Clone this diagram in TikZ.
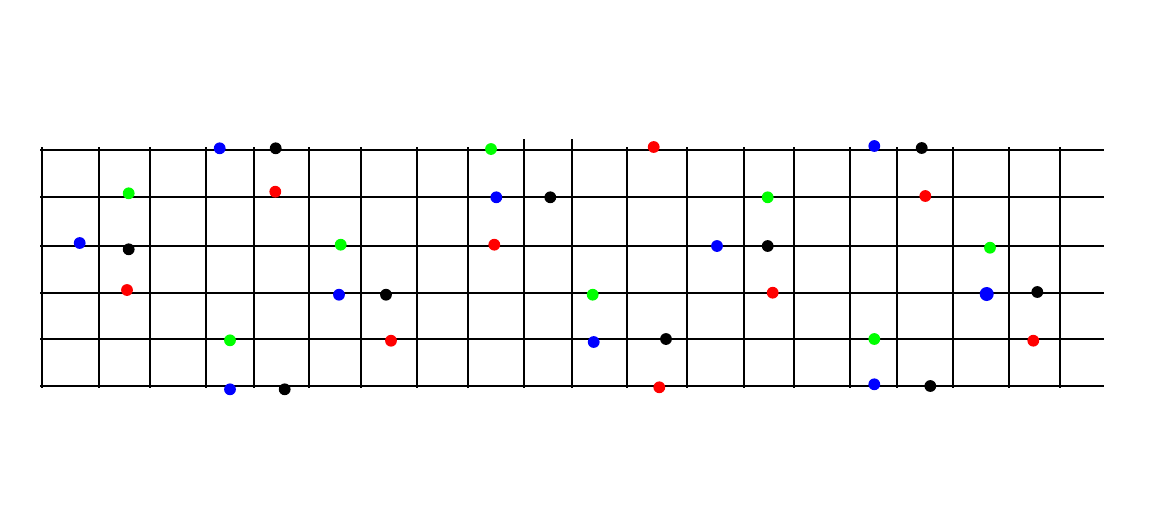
\documentclass[tikz,border=0pt]{standalone}
\usepackage{tikz}
\usepackage{xcolor}
\begin{document}
\begin{tikzpicture}[x=0.02cm,y=-0.02cm,line width=0.04cm]
\useasboundingbox (0,0) rectangle (1171,522);
% strings
\foreach \y in {150,197,246,293,339,386}
  \draw (40,\y) -- (1104,\y);
% frets
\foreach \x in {42,99,150,206,254,309,361,417,468,627,687,744,794,850,897,953,1009,1060}
  \draw (\x,147) -- (\x,388);
\foreach \x in {524,572}
  \draw (\x,139) -- (\x,388);

% notes
\foreach \x/\y in {219.7/148.3,79.7/243,230/389.3,496.3/197.3,339/294.7,593.7/342,874.3/146,717/246,874.3/384.3}
  \fill[blue] (\x,\y) circle (5.9);
\fill[blue] (986.7,294) circle (7);
\foreach \x/\y in {275.7/148.3,128.7/249.3,284.7/389.3,550.3/197.3,386/294.7,767.7/246,666/339,921.7/148,1037.3/292,930.3/386}
  \fill[black] (\x,\y) circle (5.9);
\foreach \x/\y in {128.7/193.3,230/340.3,491/149,340.7/244.7,592.7/294.7,767.7/197.3,874.3/339,990/247.7}
  \fill[green] (\x,\y) circle (5.9);
\foreach \x/\y in {275.3/191.7,127/290,494.3/244.7,391/340.7,653.7/147,772.7/292.7,659.3/387.3,925.3/196,1033.3/340.7}
  \fill[red] (\x,\y) circle (5.9);
\end{tikzpicture}
\end{document}
